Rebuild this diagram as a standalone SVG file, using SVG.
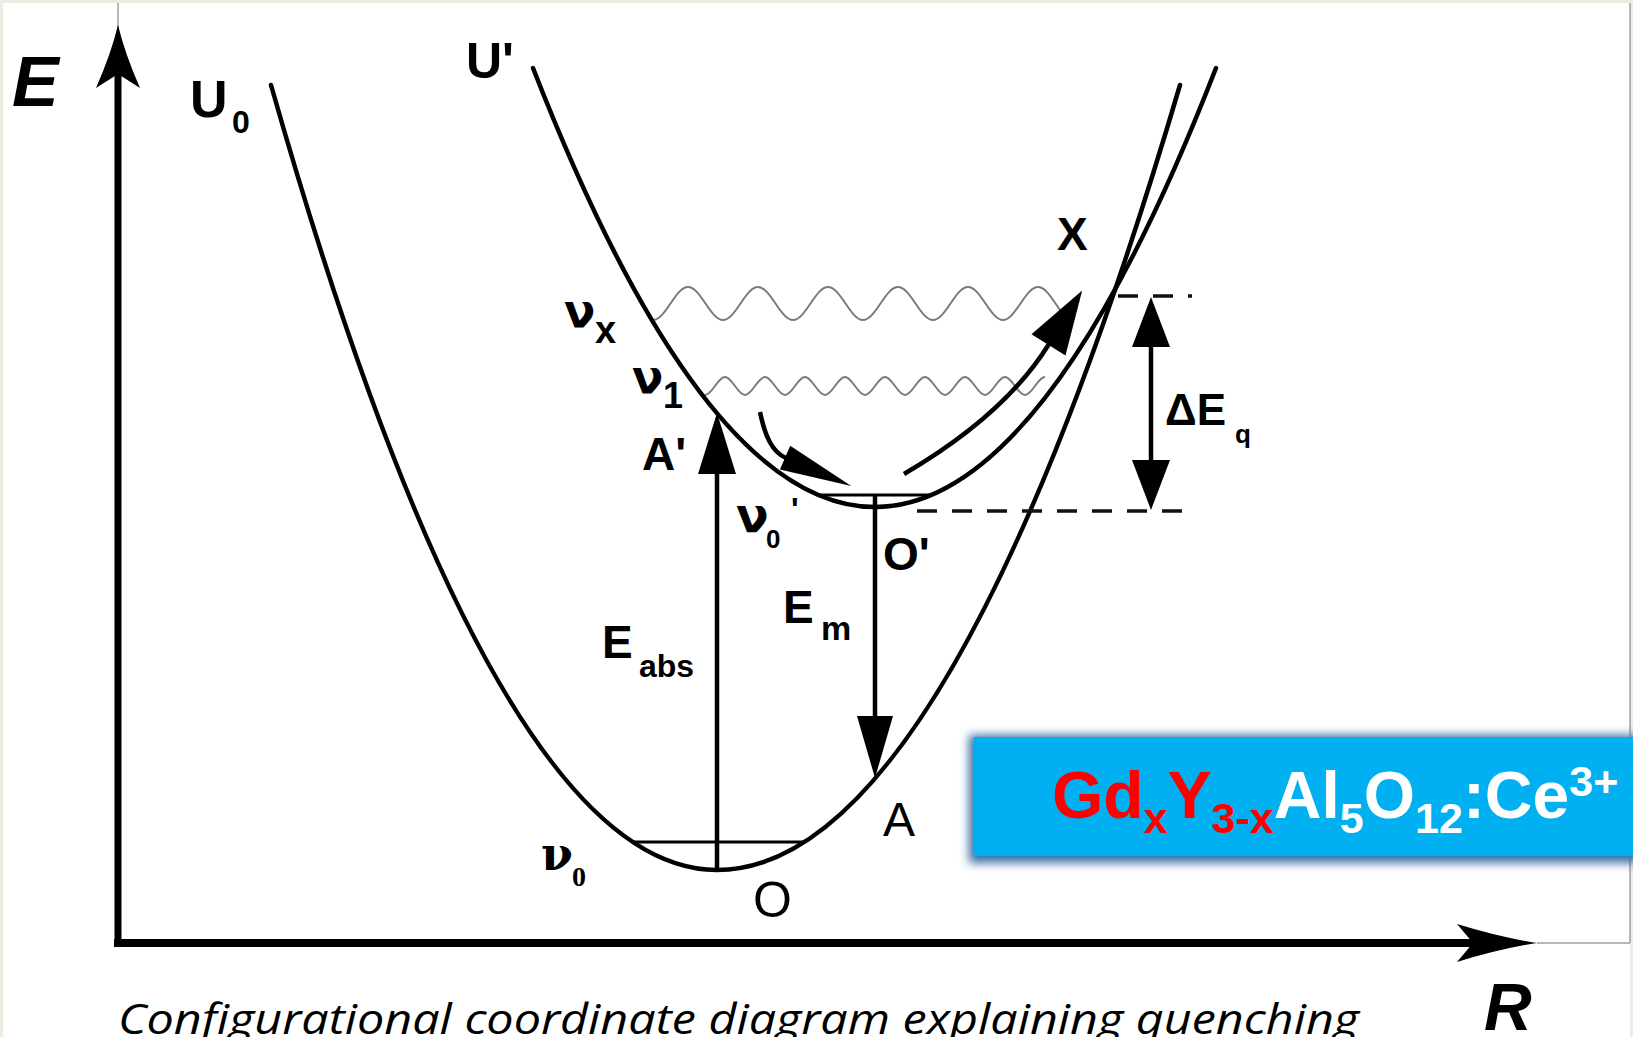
<svg xmlns="http://www.w3.org/2000/svg" width="1633" height="1037" viewBox="0 0 1633 1037">
<style>
.curve{fill:none;stroke:#000;stroke-width:4.5;stroke-linecap:round}
.arr{fill:none;stroke:#000;stroke-width:4.5}
.wave{fill:none;stroke:#7a7a7a;stroke-width:2}
.lvl{fill:none;stroke:#000;stroke-width:3}
.dash{fill:none;stroke:#111;stroke-width:3.5;stroke-dasharray:20 15}
.frame{fill:none;stroke:#a0a0a0;stroke-width:1.5}
.b{font-family:"Liberation Sans",Arial,sans-serif;font-weight:bold;fill:#000}
.nu{font-family:"DejaVu Sans","Liberation Sans",sans-serif;font-weight:bold;fill:#000}
.nus{font-family:"DejaVu Serif","Liberation Serif",serif;font-weight:bold;fill:#000}
.r{font-family:"Liberation Sans",Arial,sans-serif;font-weight:normal;fill:#000}
.sb{font-family:"Liberation Serif","Times New Roman",serif;font-weight:bold;fill:#000}
.bi{font-family:"Liberation Sans",Arial,sans-serif;font-weight:bold;font-style:italic;fill:#000}
.cap{font-family:"Open Sans","Noto Sans",sans-serif;font-style:italic;fill:#000}
.chem{font-family:"Liberation Sans",Arial,sans-serif;font-weight:bold}
</style>
<defs>
<marker id="mAxV" markerUnits="userSpaceOnUse" markerWidth="63" markerHeight="44" refX="14" refY="22" orient="auto" overflow="visible"><path d="M0,0 Q34,15 63,22 Q34,29 0,44 L14,22 Z" fill="#000"/></marker>
<marker id="mAxH" markerUnits="userSpaceOnUse" markerWidth="80" markerHeight="38" refX="16" refY="19" orient="auto" overflow="visible"><path d="M0,0 Q42,13 80,19 Q42,25 0,38 L16,19 Z" fill="#000"/></marker>
<marker id="mAbs" markerUnits="userSpaceOnUse" markerWidth="61" markerHeight="38" refX="1" refY="19" orient="auto" overflow="visible"><path d="M0,0 L61,19 L0,38 Z" fill="#000"/></marker>
<marker id="mEm" markerUnits="userSpaceOnUse" markerWidth="62" markerHeight="36" refX="1" refY="18" orient="auto" overflow="visible"><path d="M0,0 L62,18 L0,36 Z" fill="#000"/></marker>
<marker id="mDE" markerUnits="userSpaceOnUse" markerWidth="50" markerHeight="38" refX="1" refY="19" orient="auto-start-reverse" overflow="visible"><path d="M0,0 L50,19 L0,38 Z" fill="#000"/></marker>
<marker id="mArc" markerUnits="userSpaceOnUse" markerWidth="64" markerHeight="40" refX="1" refY="20" orient="auto" overflow="visible"><path d="M0,0 L64,20 L0,40 Z" fill="#000"/></marker>
<marker id="mRel" markerUnits="userSpaceOnUse" markerWidth="72" markerHeight="26" refX="1" refY="13" orient="auto" overflow="visible"><path d="M0,0 L72,13 L0,26 Z" fill="#000"/></marker>
<filter id="shadow" x="-5%" y="-30%" width="110%" height="160%"><feGaussianBlur stdDeviation="5"/></filter>
</defs>

<g id="background">
<rect x="0" y="0" width="1633" height="1037" fill="#edece2"/>
<rect x="3" y="3" width="1627" height="1034" fill="#ffffff"/>
<path class="frame" d="M118,3 V30 M1537,943 H1630 M1630,3 V943"/>
</g>

<g id="axes">
<path d="M118,947 V74" stroke="#000" stroke-width="7" fill="none" marker-end="url(#mAxV)"/>
<path d="M114,943 H1473" stroke="#000" stroke-width="8" fill="none" marker-end="url(#mAxH)"/>
<text class="bi" x="12" y="106" font-size="70">E</text>
<text class="bi" x="1484" y="1030" font-size="66">R</text>
</g>

<g id="waves">
<path class="wave" d="M653,320 C665.6,320 675.4,287 688,287 S710.4,320 723,320 S745.4,287 758,287 S780.4,320 793,320 S815.4,287 828,287 S850.4,320 863,320 S885.4,287 898,287 S920.4,320 933,320 S955.4,287 968,287 S990.4,320 1003,320 S1025.4,287 1038,287 S1060.4,320 1073,320"/>
<path class="wave" d="M705,395 C712.2,395 717.8,377 725,377 S737.8,395 745,395 S757.8,377 765,377 S777.8,395 785,395 S797.8,377 805,377 S817.8,395 825,395 S837.8,377 845,377 S857.8,395 865,395 S877.8,377 885,377 S897.8,395 905,395 S917.8,377 925,377 S937.8,395 945,395 S957.8,377 965,377 S977.8,395 985,395 S997.8,377 1005,377 S1017.8,395 1025,395 S1037.8,377 1045,377"/>
</g>

<g id="U0">
<path class="curve" d="M271,85 Q494,870 717,870 Q948.5,870 1180,85"/>
<path class="lvl" d="M633,842 H804"/>
<text class="b" x="190" y="117" font-size="52">U</text>
<text class="b" x="232" y="133" font-size="32">0</text>
</g>

<g id="Uprime">
<path class="curve" d="M533,68 Q704,507 875,507 Q1045.5,507 1216,68"/>
<path class="lvl" d="M819,495 H931"/>
<text class="b" x="466" y="78" font-size="50">U'</text>
</g>

<g id="levels">
<path class="dash" d="M1118,296 H1192"/>
<path class="dash" d="M917,511 H1188"/>
</g>

<g id="connectors">
<path class="arr" d="M717,870 V473" marker-end="url(#mAbs)"/>
<path class="arr" d="M875,495 V717" marker-end="url(#mEm)"/>
<path class="arr" d="M1151,346 V461" marker-start="url(#mDE)" marker-end="url(#mDE)"/>
<path class="arr" d="M904,474 Q1005,415 1049,344" marker-end="url(#mArc)"/>
<path class="arr" d="M760,412 C765,436 772,452 786,458" marker-end="url(#mRel)"/>
</g>

<g id="labels">
<text class="nu" x="564" y="327" font-size="46">ν</text>
<text class="b" x="595" y="343" font-size="38">x</text>
<text class="nu" x="632" y="393" font-size="46">ν</text>
<text class="b" x="663" y="408" font-size="36">1</text>
<text class="b" x="642" y="470" font-size="46">A'</text>
<text class="nu" x="736" y="532" font-size="48">ν</text>
<text class="b" x="766" y="548" font-size="26">0</text>
<text class="b" x="791" y="520" font-size="32">'</text>
<text class="b" x="883" y="570" font-size="46">O'</text>
<text class="b" x="783" y="623" font-size="46">E</text>
<text class="b" x="821" y="640" font-size="34">m</text>
<text class="b" x="602" y="658" font-size="46">E</text>
<text class="b" x="639" y="677" font-size="32">abs</text>
<text class="b" x="1057" y="250" font-size="46">X</text>
<text class="b" x="1165" y="425" font-size="44">ΔE</text>
<text class="b" x="1235" y="443" font-size="26">q</text>
<text class="r" x="883" y="836" font-size="48">A</text>
<text class="r" x="753" y="917" font-size="50">O</text>
<text class="nus" x="541" y="870" font-size="46">ν</text>
<text class="sb" x="572" y="886" font-size="28">0</text>
</g>

<g id="formula-box">
<rect x="969" y="735" width="670" height="128" fill="#3a6fa8" filter="url(#shadow)"/>
<rect x="974" y="737" width="659" height="119" fill="#00b0f0"/>
<text class="chem" x="1052" y="818" font-size="66"><tspan fill="#ff0000">Gd</tspan><tspan fill="#ff0000" font-size="43" dy="15">x</tspan><tspan fill="#ff0000" dy="-15">Y</tspan><tspan fill="#ff0000" font-size="43" dy="15">3-x</tspan><tspan fill="#ffffff" dy="-15">Al</tspan><tspan fill="#ffffff" font-size="43" dy="15">5</tspan><tspan fill="#ffffff" dy="-15">O</tspan><tspan fill="#ffffff" font-size="43" dy="15">12</tspan><tspan fill="#ffffff" dy="-15">:Ce</tspan><tspan fill="#ffffff" font-size="43" dy="-22">3+</tspan></text>
</g>

<g id="caption">
<text class="cap" x="118" y="1034" font-size="42" textLength="1241" lengthAdjust="spacingAndGlyphs">Configurational coordinate diagram explaining quenching</text>
</g>
</svg>
